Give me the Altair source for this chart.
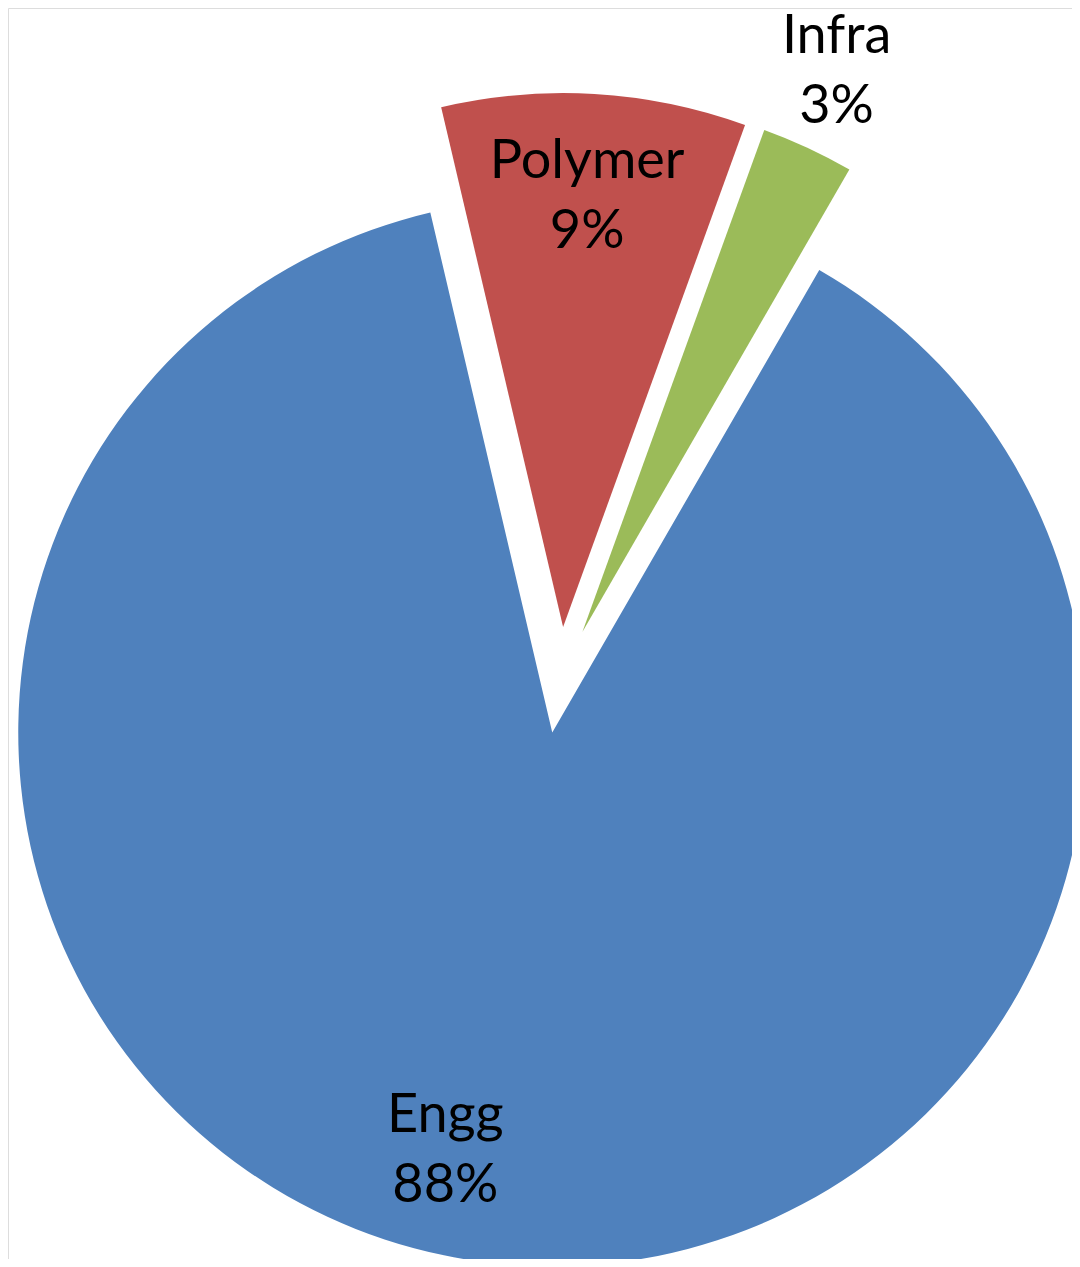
import math
import altair as alt
import pandas as pd

# ---- data ----
CATEGORIES = ["Engg", "Polymer", "Infra"]
VALUES = [88.0, 9.2, 2.8]          # share of the pie (%)
COLORS = ["#4F81BD", "#C0504D", "#9BBB59"]

# ---- layout / style ----
W, H = 1064, 1251
CX, CY = 552, 672          # pie centre before explosion (view px)
RADIUS = 534
EXPLODE = 53
ROTATION_DEG = 30          # first slice starts 30 deg clockwise from 12 o'clock
# label placement: (fraction of radius from slice apex, angle offset in degrees from slice mid)
LABEL_PLACE = {"Engg": (0.774, 6.6), "Polymer": (0.842, -0.3), "Infra": (1.184, -1.25)}
FONT = "Lato"
FONT_SIZE = 54
LINE_HEIGHT = 70

total = sum(VALUES)
rows = []
acc = 0.0
for cat, v in zip(CATEGORIES, VALUES):
    start = math.radians(ROTATION_DEG) + acc / total * 2 * math.pi
    acc += v
    end = math.radians(ROTATION_DEG) + acc / total * 2 * math.pi
    mid = (start + end) / 2
    cx = CX + EXPLODE * math.sin(mid)
    cy = CY - EXPLODE * math.cos(mid)
    frac, off = LABEL_PLACE[cat]
    la = mid + math.radians(off)
    lx = cx + frac * RADIUS * math.sin(la)
    ly = cy - frac * RADIUS * math.cos(la)
    rows.append(dict(cat=cat, value=v, start=start, end=end, cx=cx, cy=cy,
                     lx=lx, ly=ly, label=f"{cat}\n{round(v / total * 100)}%"))
df = pd.DataFrame(rows)

color = alt.Color("cat:N", scale=alt.Scale(domain=CATEGORIES, range=COLORS), legend=None)

arcs = alt.Chart(df).mark_arc(radius=RADIUS, stroke=None).encode(
    theta=alt.Theta("start:Q", scale=None),
    theta2="end:Q",
    x=alt.X("cx:Q", scale=None),
    y=alt.Y("cy:Q", scale=None),
    color=color,
)

labels = alt.Chart(df).mark_text(
    font=FONT, fontSize=FONT_SIZE, lineHeight=LINE_HEIGHT, align="center",
    baseline="alphabetic", lineBreak="\n", color="#000000",
).encode(
    x=alt.X("lx:Q", scale=None),
    y=alt.Y("ly:Q", scale=None),
    text="label:N",
)

chart = alt.layer(arcs, labels).properties(
    width=W, height=H, padding=0,
    autosize=alt.AutoSizeParams(type="none"),
).configure_view(stroke=None).configure(background="white")

chart.save("out.html", embed_options={"renderer": "svg", "actions": False})
